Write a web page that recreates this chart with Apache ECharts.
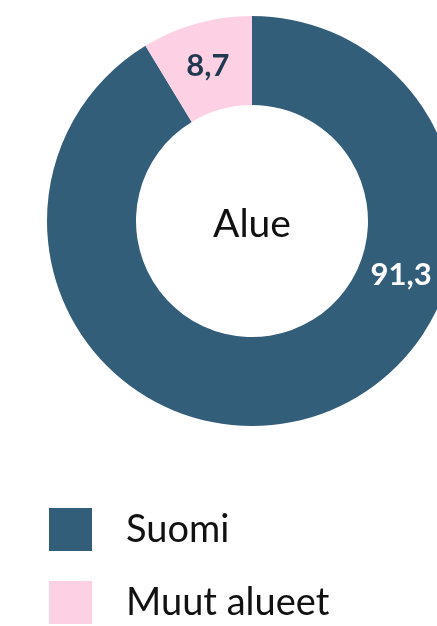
<!DOCTYPE html>
<html>
<head>
<meta charset="utf-8">
<script src="https://cdn.jsdelivr.net/npm/echarts@6/dist/echarts.min.js"></script>
<style>
  html, body { margin: 0; padding: 0; background: #fff; }
  #chart { width: 437px; height: 626px; }
</style>
</head>
<body>
<div id="chart"></div>
<script>
// alueet ja osuudet (%)
var categories = ['Suomi', 'Muut alueet']
var values = [91.3, 8.7]
var valueLabels = ['91,3', '8,7']
var centerTitle = 'Alue'

var colors = ['#335e7a', '#fdd0e3']
var font = ['Lato', 'Noto Sans', 'sans-serif']

var chart = echarts.init(document.getElementById('chart'))

var pieData = categories.map(function (name, i) {
  return {
    name: name,
    value: values[i],
    itemStyle: { color: colors[i] },
    label: i === 0
      ? { color: '#fff', offset: [105, -103] }
      : { color: '#1f3a50', offset: [0, 2] }
  }
})

var option = {
  animation: false,
  graphic: [
    {
      type: 'text',
      x: 252,
      y: 224,
      style: {
        text: centerTitle,
        fill: '#111',
        font: 'normal 39px Lato, sans-serif',
        textAlign: 'center',
        textVerticalAlign: 'middle'
      }
    }
  ],
  legend: {
    orient: 'vertical',
    left: 49,
    top: 508,
    height: 200,
    padding: 0,
    icon: 'rect',
    itemWidth: 43,
    itemHeight: 43,
    itemGap: 30,
    selectedMode: false,
    data: categories,
    textStyle: {
      color: '#111',
      fontSize: 38,
      fontFamily: font,
      padding: [0, 0, 0, 29]
    }
  },
  series: [
    {
      type: 'pie',
      center: [252, 221],
      radius: [116, 205],
      startAngle: 90,
      clockwise: true,
      silent: true,
      label: {
        show: true,
        position: 'inside',
        fontSize: 31,
        fontWeight: 'bold',
        fontFamily: font,
        formatter: function (p) {
          return valueLabels[p.dataIndex]
        }
      },
      labelLine: { show: false },
      data: pieData
    }
  ]
}

chart.setOption(option)
</script>
</body>
</html>
